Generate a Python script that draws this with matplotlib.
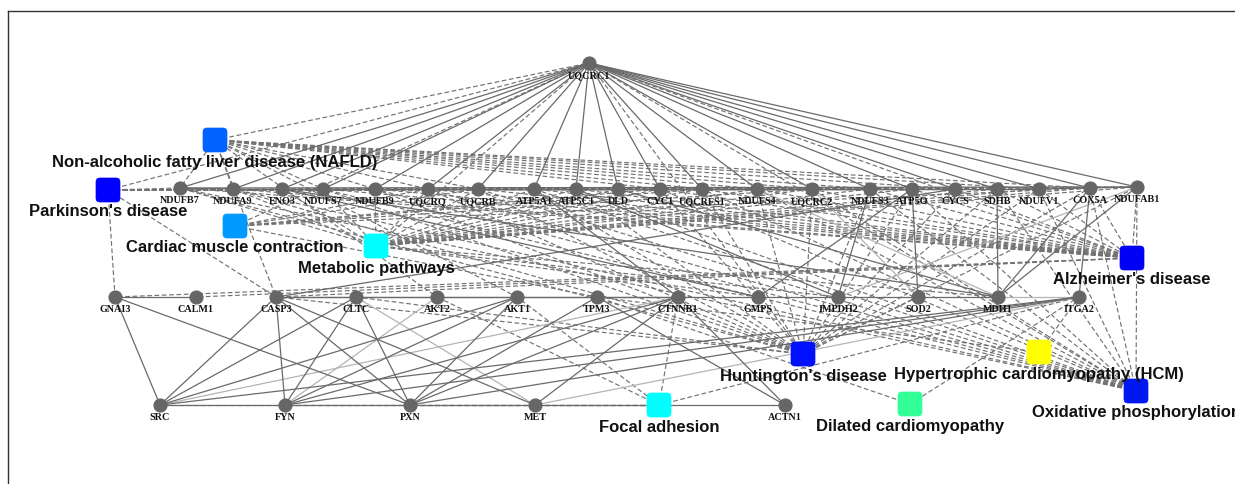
import matplotlib
matplotlib.use("Agg")
import matplotlib.pyplot as plt
from matplotlib.collections import LineCollection
from matplotlib.patches import FancyBboxPatch

# ---------------- data ----------------
top_genes = ["UQCRC1"]
top_x = [589]
top_y = [63]

row1_genes = ["NDUFB7", "NDUFA9", "ENO3", "NDUFS7", "NDUFB9", "UQCRQ", "UQCRB",
              "ATP5A1", "ATP5C1", "DLD", "CYC1", "UQCRFS1", "NDUFS4", "UQCRC2",
              "NDUFS3", "ATP5O", "CYCS", "SDHB", "NDUFV1", "COX5A", "NDUFAB1"]
row1_x = [180, 233, 282, 323, 375, 428, 478, 534, 576, 618, 660, 702, 757, 812,
          870, 912, 955, 997, 1039, 1090, 1137]
row1_y = [188, 189, 189, 189, 189, 189, 189, 189, 189, 189, 189, 189, 189, 189,
          189, 189, 189, 189, 189, 188, 187]

row2_genes = ["GNAI3", "CALM1", "CASP3", "CLTC", "AKT2", "AKT1", "TPM3", "CTNNB1",
              "GMPS", "IMPDH2", "SOD2", "MDH1", "ITGA2"]
row2_x = [115, 196, 276, 356, 437, 517, 597, 678, 758, 838, 918, 998, 1079]
row2_y = [297] * 13

row3_genes = ["SRC", "FYN", "PXN", "MET", "ACTN1"]
row3_x = [160, 285, 410, 535, 785]
row3_y = [405] * 5

pathways = ["Non-alcoholic fatty liver disease (NAFLD)", "Parkinson's disease",
            "Cardiac muscle contraction", "Metabolic pathways", "Alzheimer's disease",
            "Huntington's disease", "Hypertrophic cardiomyopathy (HCM)",
            "Oxidative phosphorylation", "Focal adhesion", "Dilated cardiomyopathy"]
pathway_x = [215, 108, 235, 376, 1132, 803, 1039, 1136, 659, 910]
pathway_y = [140, 190, 226, 246, 258, 354, 352, 391, 405, 404]
pathway_colors = ["#0062FF", "#0000FF", "#0099FF", "#00FFFF", "#0000F5",
                  "#0010FF", "#FFFF00", "#0018F0", "#00FFFF", "#33FF99"]

oxphos_core = ["NDUFB7", "NDUFA9", "NDUFS7", "NDUFB9", "UQCRQ", "UQCRB", "ATP5A1",
               "ATP5C1", "CYC1", "UQCRFS1", "NDUFS4", "UQCRC2", "NDUFS3", "ATP5O",
               "SDHB", "NDUFV1", "COX5A", "NDUFAB1", "UQCRC1"]
pathway_members = {
    "Non-alcoholic fatty liver disease (NAFLD)":
        ["NDUFB7", "NDUFA9", "NDUFS7", "NDUFB9", "UQCRQ", "UQCRB", "CYC1", "UQCRFS1",
         "NDUFS4", "UQCRC2", "NDUFS3", "NDUFV1", "COX5A", "CYCS", "UQCRC1",
         "CASP3", "AKT1", "AKT2"],
    "Parkinson's disease": oxphos_core + ["CYCS", "CASP3", "GNAI3"],
    "Cardiac muscle contraction":
        ["UQCRQ", "UQCRB", "CYC1", "UQCRFS1", "UQCRC2", "COX5A", "UQCRC1", "TPM3"],
    "Metabolic pathways": oxphos_core + ["ENO3", "DLD", "GMPS", "IMPDH2", "MDH1"],
    "Alzheimer's disease": oxphos_core + ["CYCS", "CASP3", "CALM1", "GNAI3"],
    "Huntington's disease": oxphos_core + ["CYCS", "CASP3", "CLTC", "SOD2"],
    "Hypertrophic cardiomyopathy (HCM)": ["ITGA2", "TPM3"],
    "Oxidative phosphorylation": oxphos_core,
    "Focal adhesion": ["AKT1", "AKT2", "CTNNB1", "ITGA2", "SRC", "FYN", "PXN"],
    "Dilated cardiomyopathy": ["ITGA2", "TPM3"],
}

solid_edges = (
    [("UQCRC1", g) for g in row1_genes]
    + list(zip(row1_genes[:-1], row1_genes[1:]))
    + [("NDUFB7", "NDUFAB1"), ("NDUFA9", "NDUFV1"), ("NDUFS7", "NDUFS3"),
       ("UQCRQ", "UQCRC2"), ("ATP5A1", "ATP5O")]
    + [("GNAI3", "CALM1"), ("CASP3", "CLTC"), ("CLTC", "AKT2"), ("AKT2", "AKT1"),
       ("AKT1", "TPM3"), ("TPM3", "CTNNB1"), ("CTNNB1", "GMPS"), ("GMPS", "IMPDH2"),
       ("IMPDH2", "SOD2"), ("SOD2", "MDH1"), ("CASP3", "CTNNB1")]
    + [("SRC", "FYN"), ("FYN", "PXN"), ("PXN", "MET"), ("MET", "ACTN1")]
    + [("GNAI3", "SRC"), ("GNAI3", "PXN"), ("CASP3", "SRC"), ("CASP3", "FYN"),
       ("CASP3", "PXN"), ("CASP3", "MET"), ("CLTC", "SRC"), ("CLTC", "FYN"),
       ("CLTC", "PXN"), ("AKT1", "SRC"), ("AKT1", "FYN"), ("AKT1", "PXN"),
       ("TPM3", "PXN"), ("TPM3", "ACTN1"), ("CTNNB1", "FYN"), ("CTNNB1", "PXN"),
       ("CTNNB1", "MET"), ("CTNNB1", "ACTN1"), ("ITGA2", "SRC"), ("ITGA2", "FYN"),
       ("ITGA2", "PXN")]
    + [("SDHB", "MDH1"), ("NDUFAB1", "MDH1"), ("COX5A", "ITGA2"), ("ATP5O", "SOD2"),
       ("IMPDH2", "NDUFS3"), ("GMPS", "ATP5O"), ("DLD", "MDH1"), ("ENO3", "MDH1"),
       ("ENO3", "GMPS"), ("CYCS", "CASP3"), ("ATP5C1", "IMPDH2"), ("ATP5A1", "CTNNB1"),
       ("COX5A", "MDH1")]
)
light_edges = [("SRC", "CTNNB1"), ("FYN", "AKT2"), ("CLTC", "MET"), ("MET", "ITGA2"),
               ("MDH1", "ITGA2"), ("NDUFAB1", "IMPDH2"), ("UQCRC2", "SOD2"),
               ("NDUFS4", "MDH1")]

# ---------------- layout ----------------
pos = {}
for names, xs, ys in [(top_genes, top_x, top_y), (row1_genes, row1_x, row1_y),
                      (row2_genes, row2_x, row2_y), (row3_genes, row3_x, row3_y),
                      (pathways, pathway_x, pathway_y)]:
    for n, x, y in zip(names, xs, ys):
        pos[n] = (x, y)

W, H = 1235, 484
fig = plt.figure(figsize=(W / 100, H / 100), dpi=100)
left_px, top_px = 8, 11
ax = fig.add_axes([left_px / W, 0, (W - left_px) / W, (H - top_px) / H])
ax.set_xlim(left_px, W)
ax.set_ylim(H, top_px)
ax.set_xticks([])
ax.set_yticks([])
for s in ["right", "bottom"]:
    ax.spines[s].set_visible(False)
for s in ["left", "top"]:
    ax.spines[s].set_color("#333333")
    ax.spines[s].set_linewidth(1.0)

dashed_segments = []
for p, members in pathway_members.items():
    for g in members:
        dashed_segments.append([pos[p], pos[g]])

ax.add_collection(LineCollection(dashed_segments, colors="#727272", linewidths=0.85,
                                 linestyles=[(0, (4, 2.2))], zorder=1))
ax.add_collection(LineCollection([[pos[a], pos[b]] for a, b in light_edges],
                                 colors="#b4b4b4", linewidths=0.9, zorder=1.5))
ax.add_collection(LineCollection([[pos[a], pos[b]] for a, b in solid_edges],
                                 colors="#6a6a6a", linewidths=0.9, zorder=2))

gene_names = top_genes + row1_genes + row2_genes + row3_genes
gx = [pos[g][0] for g in gene_names]
gy = [pos[g][1] for g in gene_names]
ax.plot(gx, gy, "o", ms=9.2, color="#666666", mec="#666666", zorder=4)
for g in gene_names:
    x, y = pos[g]
    ax.text(x, y + 12.5, g, ha="center", va="center", fontsize=7.3,
            family="Liberation Serif", weight="bold", color="#111111", zorder=6)

sq = 24
for p, c in zip(pathways, pathway_colors):
    x, y = pos[p]
    ax.add_patch(FancyBboxPatch((x - sq / 2, y - sq / 2), sq, sq,
                                boxstyle="round,pad=0,rounding_size=4",
                                fc=c, ec=c, lw=0.5, zorder=5))
    ax.text(x, y + 22, p, ha="center", va="center", fontsize=12,
            family="Liberation Sans", weight="bold", color="#111111", zorder=6,
            clip_on=False)

fig.savefig("out.png", dpi=100)
